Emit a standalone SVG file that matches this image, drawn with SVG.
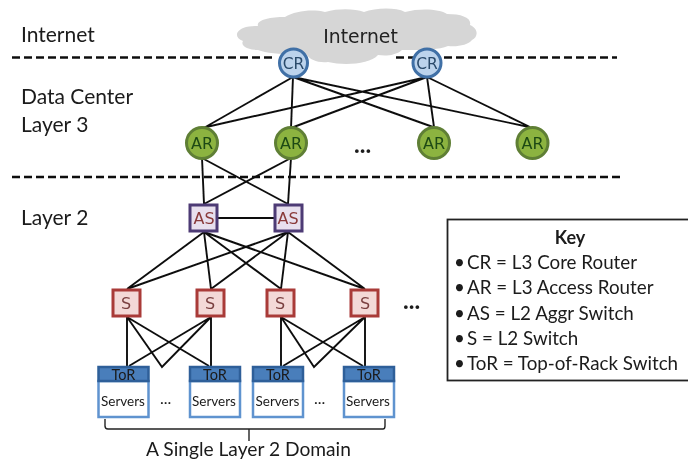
<svg xmlns="http://www.w3.org/2000/svg" width="688" height="459" viewBox="0 0 688 459">
<defs>
<style>
.t{font-family:Lato,"Liberation Sans",sans-serif;fill:#1a1a1a}
.d{font-family:"DejaVu Sans",sans-serif;text-anchor:middle}
.dash{stroke:#111;stroke-width:2.4;stroke-dasharray:8 4;fill:none}
.c{stroke:#111;stroke-width:1.9;fill:none}
.cr{fill:#bcd3ec;stroke:#3f6fa6;stroke-width:3}
.ar{fill:#8cb33f;stroke:#5f7f35;stroke-width:3}
.as{fill:#e8e0ee;stroke:#4d3b74;stroke-width:3}
.s{fill:#f3d9d7;stroke:#a93b38;stroke-width:3}
.tor{fill:#4a7ebb;stroke:#2f5f99;stroke-width:2.5}
.srv{fill:#fff;stroke:#5f93cf;stroke-width:2.5}
</style>
<filter id="b" x="0" y="0" width="100%" height="100%"><feGaussianBlur stdDeviation="0.5"/></filter>
</defs>
<rect width="688" height="459" fill="#fff"/>
<g filter="url(#b)">
<g id="cloud"><path d="M258 26C256 20 270 17 285 17C295 11 312 9 325 12C340 8 355 9 364 12C375 8 395 7 405 12C420 8 440 9 447 14C462 14 472 18 470 25C479 29 478 37 472 40C468 45 458 47 448 46C435 51 415 50 402 50C395 56 385 56 378 55C370 64 345 66 328 62C318 63 310 60 306 54C290 55 268 54 258 50C248 50 240 46 243 41C234 38 235 30 246 27C250 26 254 26 258 26Z" fill="#d6d6d6"/>
<text x="360.500" y="43" class="d" font-size="18.800" fill="#222">Internet</text></g>
<g id="labels">
<text x="21" y="42" class="t" font-size="21">Internet</text>
<text x="21" y="104" class="t" font-size="21">Data Center</text>
<text x="21" y="132" class="t" font-size="21">Layer 3</text>
<text x="21" y="225" class="t" font-size="21">Layer 2</text>
<text x="354" y="153" class="t" font-size="24" font-weight="700">...</text>
<text x="403" y="309" class="t" font-size="24" font-weight="700">...</text>
<text x="160" y="404" class="t" font-size="16">...</text>
<text x="314" y="404" class="t" font-size="16">...</text>
<text x="248.500" y="456" class="t" font-size="19.200" text-anchor="middle">A Single Layer 2 Domain</text>
</g>
<g id="connectors">
<path class="dash" d="M12 57.500H276M396 57.500H617"/>
<path class="dash" d="M12 177H622"/>
<path class="c" d="M293 77L202 129M293 77L291 128M293 77L433 127M293 77L529 127M427 77L202 128M427 77L291 128M427 77L434 127M427 77L530 127"/>
<path class="c" d="M202 158L204 204M291 158L204 204M202 158L288 204M291 158L288 204M204 218H288"/>
<path class="c" d="M204 232L127 289M204 232L211 289M204 232L281 289M204 232L365 289M288 232L127 289M288 232L211 289M288 232L281 289M288 232L365 289"/>
<path class="c" d="M127 317L127 366M127 317L162 367L211 317M127 317L209 366M211 317L129 366M211 317L211 366M281 317L281 366M281 317L314 367L365 317M281 317L363 366M365 317L283 366M365 317L365 366"/>
<path stroke="#222" stroke-width="1.400" fill="none" d="M105 419V426Q105 429 108 429H383Q385 429 385 426V419M249 429V441"/>
</g>
<g id="cr1"><circle class="cr" cx="293.500" cy="63" r="14"/><text x="293.500" y="69" class="d" font-size="15.500" fill="#2a4a6a">CR</text></g>
<g id="cr2"><circle class="cr" cx="427" cy="63" r="14"/><text x="427" y="69" class="d" font-size="15.500" fill="#2a4a6a">CR</text></g>
<g id="ar1"><circle class="ar" cx="202" cy="143" r="15.500"/><text x="202" y="149" class="d" font-size="16" fill="#1f4a12">AR</text></g>
<g id="ar2"><circle class="ar" cx="291" cy="143" r="15.500"/><text x="291" y="149" class="d" font-size="16" fill="#1f4a12">AR</text></g>
<g id="ar3"><circle class="ar" cx="434" cy="143" r="15.500"/><text x="434" y="149" class="d" font-size="16" fill="#1f4a12">AR</text></g>
<g id="ar4"><circle class="ar" cx="532.500" cy="143" r="15.500"/><text x="532.500" y="149" class="d" font-size="16" fill="#1f4a12">AR</text></g>
<g id="as1"><rect class="as" x="190" y="205" width="27" height="26"/><text x="204" y="224" class="d" font-size="16" fill="#8a3a3a">AS</text></g>
<g id="as2"><rect class="as" x="275" y="205" width="27" height="26"/><text x="288" y="224" class="d" font-size="16" fill="#8a3a3a">AS</text></g>
<g id="s1"><rect class="s" x="113" y="290" width="27" height="26"/><text x="126" y="309" class="d" font-size="16" fill="#7a4040">S</text></g>
<g id="s2"><rect class="s" x="197" y="290" width="27" height="26"/><text x="210" y="309" class="d" font-size="16" fill="#7a4040">S</text></g>
<g id="s3"><rect class="s" x="267" y="290" width="27" height="26"/><text x="280" y="309" class="d" font-size="16" fill="#7a4040">S</text></g>
<g id="s4"><rect class="s" x="351" y="290" width="27" height="26"/><text x="365" y="309" class="d" font-size="16" fill="#7a4040">S</text></g>
<g id="rack1"><rect class="srv" x="98.500" y="381" width="50" height="36"/><rect class="tor" x="98.500" y="367" width="50" height="14"/><text x="123.500" y="380" class="t" font-size="14.500" text-anchor="middle">ToR</text><text x="123" y="406" class="t" font-size="13.500" text-anchor="middle">Servers</text></g>
<g id="rack2"><rect class="srv" x="190" y="381" width="50" height="36"/><rect class="tor" x="190" y="367" width="50" height="14"/><text x="215" y="380" class="t" font-size="14.500" text-anchor="middle">ToR</text><text x="214" y="406" class="t" font-size="13.500" text-anchor="middle">Servers</text></g>
<g id="rack3"><rect class="srv" x="253" y="381" width="50" height="36"/><rect class="tor" x="253" y="367" width="50" height="14"/><text x="278" y="380" class="t" font-size="14.500" text-anchor="middle">ToR</text><text x="277.500" y="406" class="t" font-size="13.500" text-anchor="middle">Servers</text></g>
<g id="rack4"><rect class="srv" x="344" y="381" width="50" height="36"/><rect class="tor" x="344" y="367" width="50" height="14"/><text x="369" y="380" class="t" font-size="14.500" text-anchor="middle">ToR</text><text x="368" y="406" class="t" font-size="13.500" text-anchor="middle">Servers</text></g>
<g id="key"><rect x="447.500" y="219.500" width="245" height="161" fill="#fff" stroke="#222" stroke-width="1.800"/>
<text x="570" y="244" class="t" font-size="18" font-weight="700" text-anchor="middle">Key</text>
<text x="454" y="269" class="t" font-size="18.800">•<tspan x="467">CR = L3 Core Router</tspan></text>
<text x="454" y="294" class="t" font-size="18.800">•<tspan x="467">AR = L3 Access Router</tspan></text>
<text x="454" y="320" class="t" font-size="18.800">•<tspan x="467">AS = L2 Aggr Switch</tspan></text>
<text x="454" y="345" class="t" font-size="18.800">•<tspan x="467">S = L2 Switch</tspan></text>
<text x="454" y="370" class="t" font-size="18.800">•<tspan x="467">ToR = Top-of-Rack Switch</tspan></text></g>
</g>
</svg>
